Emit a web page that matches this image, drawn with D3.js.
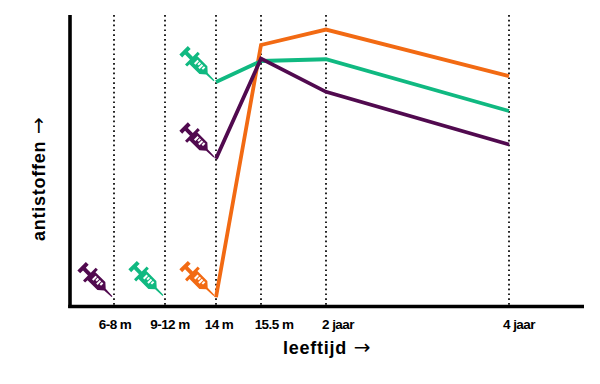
<!DOCTYPE html>
<html><head><meta charset="utf-8">
<script src="https://cdn.jsdelivr.net/npm/d3@7"></script>
<style>html,body{margin:0;padding:0;background:#fff}svg{display:block}text{font-family:"Liberation Sans",Arial,sans-serif;font-weight:bold;fill:#000}.arr{font-family:"DejaVu Sans",sans-serif;font-weight:normal}</style>
</head><body><svg id="c" width="600" height="384"></svg>
<script>
const tickLabels = ["6-8 m","9-12 m","14 m","15.5 m","2 jaar","4 jaar"];
const lineLabels = ["14 m","15.5 m","2 jaar","4 jaar"];
const orangeValues = [3, 89.7, 95, 79];
const greenValues = [77, 84.2, 84.8, 67];
const purpleValues = [50.6, 85, 73.6, 55.5];
const purpleDoses = [["6-8 m", 3.2], ["14 m", 51.2]];
const greenDoses = [["9-12 m", 3.6], ["14 m", 77.4]];
const orangeDoses = [["14 m", 3.6]];
const colors = {orange:"#f26a13", green:"#10b981", purple:"#510a4f"};

const svg = d3.select("#c");
const x = d3.scaleOrdinal().domain(tickLabels).range([114,165,216,261,326,509]);
const y = d3.scaleLinear().domain([0,100]).range([306,15]);

svg.selectAll("line.grid").data(tickLabels).join("line").attr("class","grid")
  .attr("x1",d=>x(d)).attr("x2",d=>x(d)).attr("y1",15).attr("y2",306)
  .attr("stroke","#000").attr("stroke-width",1.7).attr("stroke-dasharray","1.7 3.1");

const line = d3.line().x(d=>x(d[0])).y(d=>y(d[1]));
[[orangeValues,colors.orange],[greenValues,colors.green],[purpleValues,colors.purple]].forEach(([v,c])=>{
  svg.append("path").attr("d",line(v.map((d,i)=>[lineLabels[i],d])))
    .attr("fill","none").attr("stroke",c).attr("stroke-width",3.8).attr("stroke-linejoin","miter");
});

// syringe glyph: tip at origin, body back along -x
const syringe = "M0,-0.6 L-10,-1.1 L-15,-5.6 L-29,-5.6 L-29,-9 L-32,-9 L-32,-2 L-39,-2 L-39,-6 L-43,-6 L-43,6 L-39,6 L-39,2 L-32,2 L-32,9 L-29,9 L-29,5.6 L-15,5.6 L-10,1.1 L0,0.6 Z";
const marks = [-26.5,-23.5,-20.5,-17.5];
function drawSyringes(doses,c){
  doses.forEach(([a,v])=>{
    const g = svg.append("g").attr("transform",`translate(${x(a)-2},${y(v)}) rotate(45)`);
    g.append("path").attr("d",syringe).attr("fill",c);
    g.selectAll("rect").data(marks).join("rect")
      .attr("x",d=>d).attr("y",-3.2).attr("width",2)
      .attr("height",(d,i)=>i%2?3.2:5).attr("fill","#fff");
  });
}
drawSyringes(purpleDoses,colors.purple);
drawSyringes(greenDoses,colors.green);
drawSyringes(orangeDoses,colors.orange);

// axes
svg.append("line").attr("x1",70).attr("x2",70).attr("y1",15).attr("y2",308).attr("stroke","#000").attr("stroke-width",3.6);
svg.append("line").attr("x1",68.2).attr("x2",584).attr("y1",306.5).attr("y2",306.5).attr("stroke","#000").attr("stroke-width",3.6);

const tickOffsets = [1,5,3,13,12,10];
svg.selectAll("text.tick").data(tickLabels).join("text").attr("class","tick")
  .attr("x",(d,i)=>x(d)+tickOffsets[i]).attr("y",328.5).attr("text-anchor","middle")
  .attr("font-size",13.5).attr("letter-spacing",-0.55).text(d=>d);

const xt = svg.append("text").attr("x",283).attr("y",354).attr("font-size",18).attr("letter-spacing",0.75);
xt.append("tspan").text("leeftijd ");
xt.append("tspan").attr("class","arr").attr("font-size",20).attr("dx",1).text("→");
const yt = svg.append("text").attr("transform","translate(45,241) rotate(-90)").attr("font-size",18).attr("letter-spacing",0.75);
yt.append("tspan").text("antistoffen ");
yt.append("tspan").attr("class","arr").attr("font-size",20).attr("dx",1).text("→");
</script></body></html>
